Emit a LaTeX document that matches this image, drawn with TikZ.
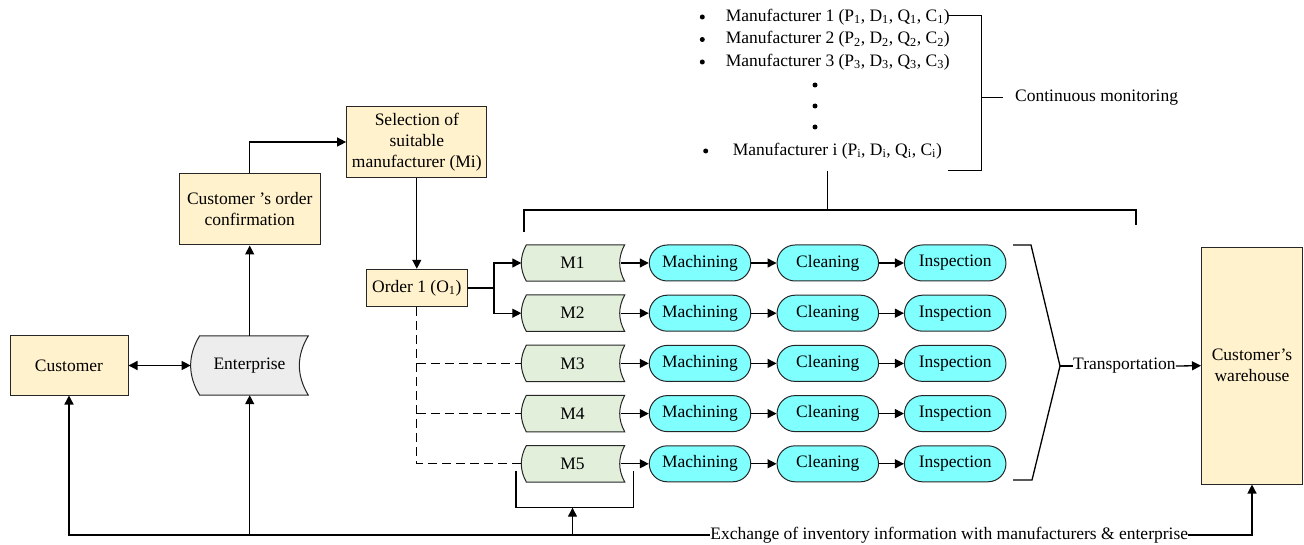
\documentclass[tikz,border=0pt]{standalone}
\usepackage{fontspec}
\setmainfont{Liberation Serif}
\usetikzlibrary{arrows.meta,calc,backgrounds}

\definecolor{boxyellow}{HTML}{FFF2CC}
\definecolor{mgreen}{HTML}{E2EFDA}
\definecolor{proccyan}{HTML}{80FFFF}
\definecolor{entgray}{HTML}{EDEDED}
\definecolor{edge}{HTML}{262626}

% stored-data outline behind node #1: convex left side, concave right side
% #2 = bulge, #3 = fill colour
\newcommand\storedoutline[3]{%
  \begin{scope}[on background layer]
    \filldraw[draw=edge, fill=#3, line width=1pt]
      (#1.north east) -- (#1.north west)
      .. controls ($(#1.north west)!0.33!(#1.south west)+(-1.333*#2,0)$)
             and ($(#1.north west)!0.67!(#1.south west)+(-1.333*#2,0)$) .. (#1.south west)
      -- (#1.south east)
      .. controls ($(#1.south east)!0.33!(#1.north east)+(-1.333*#2,0)$)
             and ($(#1.south east)!0.67!(#1.north east)+(-1.333*#2,0)$) .. (#1.north east)
      -- cycle;
  \end{scope}}

\tikzset{
  ybox/.style={draw=edge, fill=boxyellow, line width=1pt, align=center, inner sep=2pt},
  proc/.style={draw=edge, fill=proccyan, line width=1pt, rounded corners=18pt,
               minimum width=101.5pt, minimum height=36pt, inner sep=0pt},
  mstore/.style={minimum width=98pt, minimum height=36pt, inner sep=0pt},
  plain/.style={inner sep=0pt},
  link/.style={line width=1.3pt, draw=black},
  dashlink/.style={line width=1.3pt, dash pattern=on 9pt off 5pt},
}

\begin{document}
\begin{tikzpicture}[x=1pt, y=-1pt, font=\fontsize{17.5}{21}\selectfont,
  >={Triangle[length=9pt,width=9pt]}]
\useasboundingbox (0,0) rectangle (1304,545);

% customer side
\node[ybox, minimum width=118pt, minimum height=59pt] (cust) at (69,365.5) {Customer};
\node[inner sep=0pt, minimum width=108.3pt, minimum height=59pt] (ent) at (254,365.5) {\hspace*{-9pt}Enterprise};
\storedoutline{ent}{9}{entgray}
\node[ybox, minimum width=140.7pt, minimum height=71pt] (conf) at (249.7,209.5) {Customer ’s order\\confirmation};
\node[ybox, minimum width=140.3pt, minimum height=71pt] (sel) at (416.8,142) {Selection of\\suitable\\manufacturer (Mi)};
\node[ybox, minimum width=101pt, minimum height=37.4pt] (ord) at (416.8,288) {Order 1 (O\textsubscript{1})};

\draw[link, <->] (cust.east) -- ([xshift=-9pt]ent.west);
\draw[link, ->] (conf.south |- ent.north) -- (conf.south);
\draw[link, ->] (conf.north) |- (sel.west);
\draw[link, ->] (sel.south) -- (ord.north);

% manufacturer rows
\foreach \i/\y in {1/263,2/313.2,3/363.4,4/413.6,5/463.8}{
  \node[mstore] (m\i) at (575.5,\y) {\hspace*{-6pt}M\i};
  \storedoutline{m\i}{5}{mgreen}
  \node[proc] (ma\i) at (700,\y) {Machining};
  \node[proc] (cl\i) at (827.8,\y) {Cleaning};
  \node[proc] (in\i) at (955.2,\y) {Inspection};
  \draw[link, ->] ([xshift=-4pt]m\i.east) -- (ma\i);
  \draw[link, ->] (ma\i) -- (cl\i);
  \draw[link, ->] (cl\i) -- (in\i);
}

% order dispatch
\coordinate (split) at (494,288);
\draw[link] (ord.east) -- (split);
\draw[link, ->] (split) |- ([xshift=-5pt]m1.west);
\draw[link, ->] (split) |- ([xshift=-5pt]m2.west);
\draw[dashlink] (ord.south) |- ([xshift=-5pt]m5.west);
\draw[dashlink] (ord.south |- m3.west) -- ([xshift=-5pt]m3.west);
\draw[dashlink] (ord.south |- m4.west) -- ([xshift=-5pt]m4.west);

% manufacturer list
\foreach \n/\y/\bx/\tx in {1/17/702.3/725.7, 2/39.5/702.3/725.7, 3/62/702.3/725.7}{
  \fill (\bx,\y) circle (2.5pt);
  \node[plain, anchor=west] (mf\n) at (\tx,\y)
    {Manufacturer \n\ (P\textsubscript{\n}, D\textsubscript{\n}, Q\textsubscript{\n}, C\textsubscript{\n})};
}
\foreach \y in {85,106,127}{ \fill (815,\y) circle (2.5pt); }
\fill (705.7,151) circle (2.5pt);
\node[plain, anchor=west] (mfi) at (732.7,151)
  {Manufacturer i (P\textsubscript{i}, D\textsubscript{i}, Q\textsubscript{i}, C\textsubscript{i})};

% continuous monitoring bracket
\node[plain, anchor=west] (mon) at (1015,97.5) {Continuous monitoring};
\draw[link] (948,15.7) -- (981.7,15.7) -- (981.7,170.7) -- (948.3,170.7);
\coordinate (montick) at (981.7,97.5);
\draw[link] (montick) -- ([xshift=-12pt]mon.west);

% link from list to all rows
\coordinate (listfoot) at (827.5,170.7);
\draw[link] (listfoot) -- (827.5,210);
\draw[link] (524,231.7) -- (524,210) -- (1136,210) -- (1136,225);

% transportation
\node[ybox, minimum width=101pt, minimum height=236.7pt] (wh) at (1252,365.7) {Customer’s\\warehouse};
\node[plain, anchor=west] (trans) at (1073,366) {Transportation};
\coordinate (tip) at (1060,366);
\draw[link] (1013,245) -- (1031,245) -- (tip) -- (1032,480) -- (1013,480);
\draw[link] (tip) -- (trans.west);
\draw[link, ->] (trans.east) -- (wh.west);

% inventory information exchange
\coordinate (bot) at (0,535);
\node[plain] (exch) at (949.2,535) {Exchange of inventory information with manufacturers \& enterprise};
\draw[link] (516,470.7) -- (516,507.7) -- (633.5,507.7) -- (633.5,470.7);
\coordinate (mb) at (572.5,507.7);
\draw[link, ->] (exch.west) -| (cust.south);
\draw[link, ->] (conf.south |- bot) -- (conf.south |- ent.south);
\draw[link, ->] (mb |- bot) -- (mb);
\draw[link, ->] (exch.east) -| (wh.south);
\end{tikzpicture}
\end{document}
